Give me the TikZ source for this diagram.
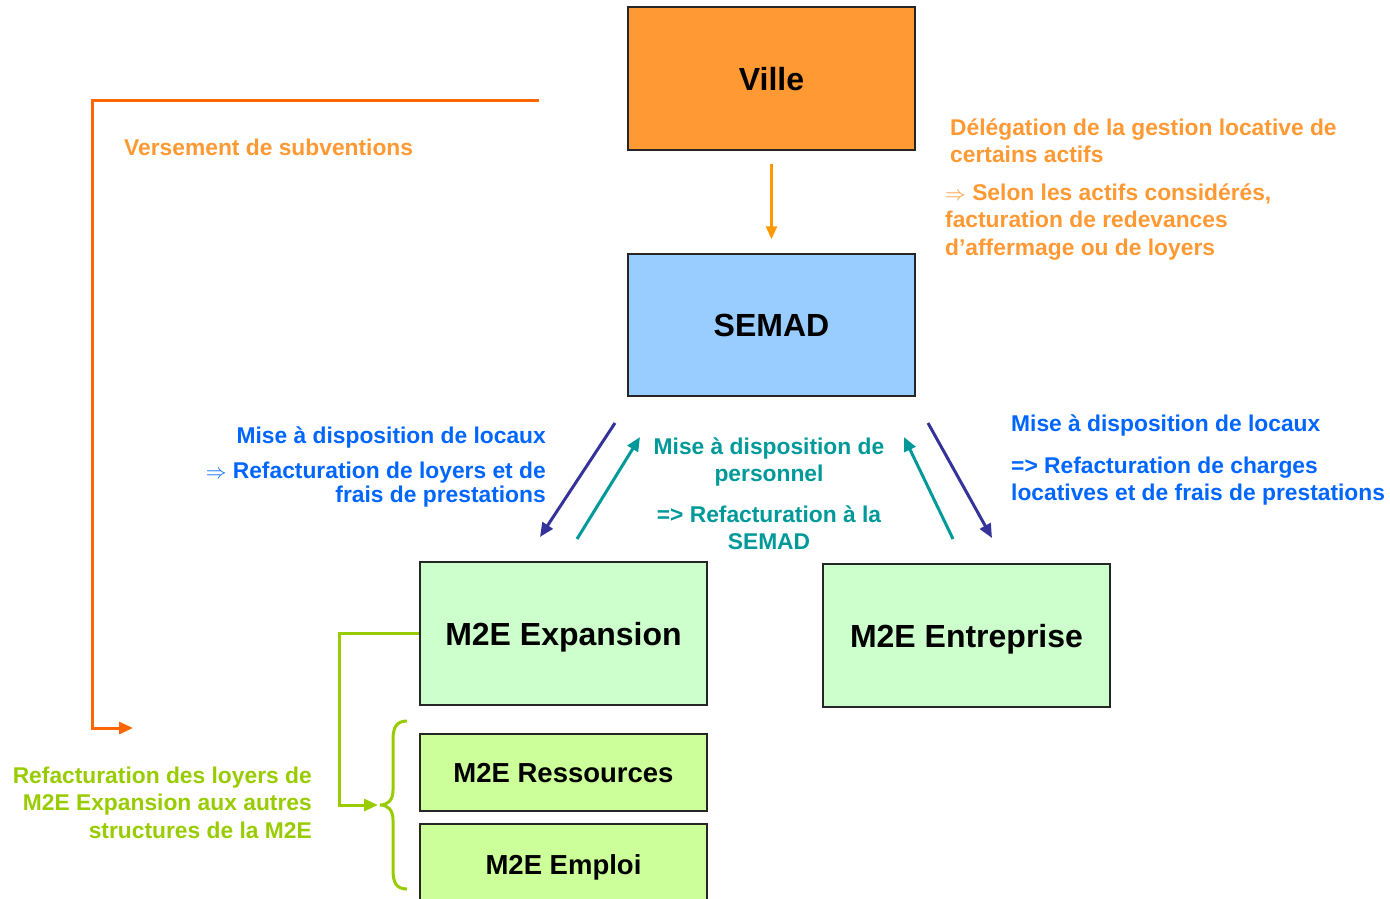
\documentclass[tikz,border=0pt]{standalone}
\usepackage{fontspec}
\setmainfont{Liberation Sans}
\usetikzlibrary{arrows.meta}

\definecolor{villefill}{HTML}{FF9933}
\definecolor{semadfill}{HTML}{99CCFF}
\definecolor{m2efill}{HTML}{CCFFCC}
\definecolor{m2esubfill}{HTML}{CCFF99}
\definecolor{orangearrow}{HTML}{FF9900}
\definecolor{subvcolor}{HTML}{FF6600}
\definecolor{orangetext}{HTML}{FF9933}
\definecolor{bluetext}{HTML}{0066FF}
\definecolor{darkblue}{HTML}{333399}
\definecolor{tealcolor}{HTML}{009999}
\definecolor{greencolor}{HTML}{99CC00}

\tikzset{
  box/.style={draw=black!85, line width=1.5pt, minimum width=287pt,
    inner sep=0pt, text depth=0pt, font=\fontsize{32}{38}\selectfont\bfseries},
  subbox/.style={box, fill=m2esubfill, minimum height=77pt,
    font=\fontsize{27.5}{33}\selectfont\bfseries},
  note/.style={inner sep=0pt, font=\fontsize{22.8}{27}\selectfont\bfseries},
  flow/.style={line width=3pt, -{Triangle[length=14pt,width=12pt]}},
}

\begin{document}
\begin{tikzpicture}[x=1pt,y=-1pt]
  \clip (0,0) rectangle (1390,898);

  % boxes
  \node[box, fill=villefill, minimum height=143pt] (ville) at (771.5,78.5) {Ville};
  \node[box, fill=semadfill, minimum height=142pt] (semad) at (771.5,325) {SEMAD};
  \node[box, fill=m2efill, minimum height=143pt] (expansion) at (563.5,633.5) {M2E Expansion};
  \node[box, fill=m2efill, minimum height=143pt] (entreprise) at (966.5,635.5) {M2E Entreprise};
  \node[subbox] (ressources) at (563.5,772.5) {M2E Ressources};
  \node[subbox, minimum height=82pt] (emploi) at (563.5,865) {M2E Emploi};

  % Ville -> SEMAD
  \draw[orangearrow, line width=2.5pt, -{Triangle[length=13pt,width=11pt]},
    shorten <=13pt, shorten >=14pt] (ville.south) -- (semad.north);

  % subventions
  \coordinate (subvstart) at (539,100);
  \coordinate (subvend) at (133,728);
  \draw[subvcolor, flow] (subvstart) -- (92,100) |- (subvend);
  \node[note, text=orangetext, anchor=base west] (subv) at (124,155) {Versement de subventions};

  \node[note, text=orangetext, anchor=base west, align=left] (delegation) at (950,162)
    {D\'el\'egation de la gestion locative de\\certains actifs};
  \node[note, text=orangetext, anchor=base west, align=left,
    font=\fontsize{22.8}{27.5}\selectfont\bfseries] (redevances) at (945,255)
    {$\Rightarrow$ Selon les actifs consid\'er\'es,\\facturation de redevances\\d'affermage ou de loyers};

  % SEMAD <-> M2E Expansion
  \coordinate (locauxa) at (615,423);
  \coordinate (locauxb) at (540,537);
  \coordinate (perso1a) at (577,539);
  \coordinate (perso1b) at (640,437);
  \draw[darkblue, flow] (locauxa) -- (locauxb);
  \draw[tealcolor, flow] (perso1a) -- (perso1b);

  % SEMAD <-> M2E Entreprise
  \coordinate (perso2a) at (953,539);
  \coordinate (perso2b) at (904,437);
  \coordinate (charges1) at (928,423);
  \coordinate (charges2) at (992,538);
  \draw[tealcolor, flow] (perso2a) -- (perso2b);
  \draw[darkblue, flow] (charges1) -- (charges2);

  \node[note, text=bluetext, anchor=base east] (locauxl) at (546,443) {Mise \`a disposition de locaux};
  \node[note, text=bluetext, anchor=base east, align=right,
    font=\fontsize{22.8}{24}\selectfont\bfseries] (loyersl) at (546,502)
    {$\Rightarrow$ Refacturation de loyers et de\\frais de prestations};

  \node[note, text=tealcolor, anchor=base, align=center] (personnel) at (769,481.5)
    {Mise \`a disposition de\\personnel};
  \node[note, text=tealcolor, anchor=base, align=center] (refsemad) at (769,549)
    {=> Refacturation \`a la\\SEMAD};

  \node[note, text=bluetext, anchor=base west] (locauxr) at (1011,431) {Mise \`a disposition de locaux};
  \node[note, text=bluetext, anchor=base west, align=left] (chargesr) at (1011,500.5)
    {=> Refacturation de charges\\locatives et de frais de prestations};

  % refacturation aux autres structures
  \coordinate (bracetip) at (380,805);
  \draw[greencolor, line width=3pt, -{Triangle[length=14pt,width=12pt]}]
    (expansion.west) -- (339,633.5) |- ([xshift=-2pt]bracetip);
  \draw[greencolor, line width=3pt]
    (407,721) .. controls (396,721) and (393,728) .. (393,740) -- (393,790)
    .. controls (393,800) and (388,805) .. (bracetip)
    .. controls (388,805) and (393,810) .. (393,820) -- (393,870)
    .. controls (393,882) and (396,889) .. (407,889);
  \node[note, text=greencolor, anchor=base east, align=right,
    font=\fontsize{22.8}{27.5}\selectfont\bfseries] (autres) at (312,838)
    {Refacturation des loyers de\\M2E Expansion aux autres\\structures de la M2E};
\end{tikzpicture}
\end{document}
